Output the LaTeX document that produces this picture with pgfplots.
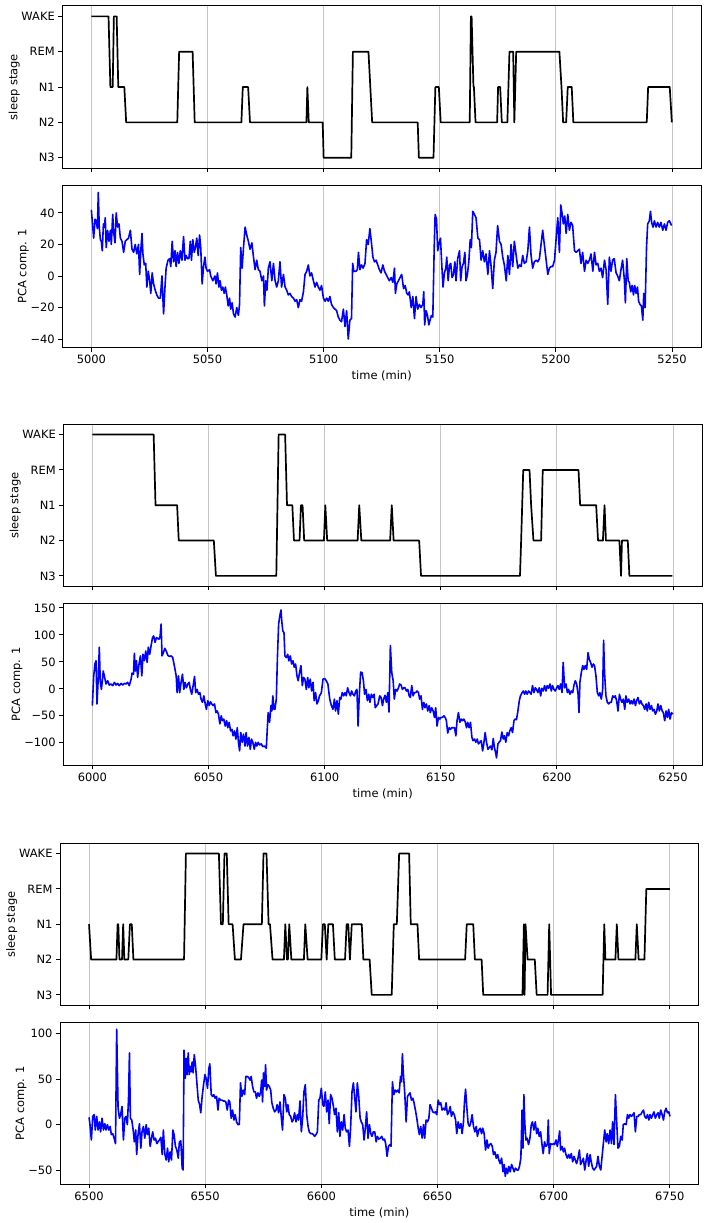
\documentclass[border=0pt]{standalone}
\usepackage{fontspec}
\setmainfont{DejaVu Sans}
\usepackage{pgfplots}
\pgfplotsset{compat=1.18}
\newcommand\tlfont{\fontsize{11.5}{13}\selectfont}
\pgfplotsset{
  base/.style={scale only axis, width=638.8bp, height=162.5bp, anchor=south west,
    tick align=outside, tick pos=left, major tick length=4bp,
    xmajorgrids, grid style={gray!45, line width=0.9bp},
    axis line style={line width=0.9bp}, tick style={line width=0.9bp, black},
    ticklabel style={font=\tlfont}, label style={font=\tlfont}, ylabel shift=-5bp},
  hyp/.style={base, ymin=-0.3, ymax=4.3, ytick={0,1,2,3,4},
    yticklabels={N3,N2,N1,REM,WAKE}, ylabel={sleep stage}, xticklabels={,,,,,}},
  pca/.style={base, xlabel={time (min)}, ylabel={PCA comp. 1}},
  hl/.style={black, line width=1.7bp, line join=round},
  pl/.style={blue, line width=1.6bp, line join=round},
}
\begin{document}
\begin{tikzpicture}
\useasboundingbox (0bp,0bp) rectangle (709bp,1223bp);
% ---------- group 1 ----------
\begin{axis}[hyp, at={(62.3bp,1054.7bp)}, xmin=4987.5, xmax=5262.5, xtick={5000,5050,...,5250}]
\addplot[hl] coordinates {(5000,4) (5007.4,4) (5008.2,2) (5009.2,2) (5009.7,4) (5010.9,4) (5011.6,2) (5014.2,2) (5015,1) (5037,1) (5037.8,3) (5043.6,3) (5044.5,1) (5064.6,1) (5065.2,2) (5067.5,2) (5068.3,1) (5092.6,1) (5093,2) (5093.6,1) (5099.6,1) (5100,0) (5111.9,0) (5112.6,3) (5119.3,3) (5120.1,2) (5120.9,1) (5140.5,1) (5141,0) (5147.3,0) (5148.1,2) (5149.6,2) (5150.4,1) (5162.9,1) (5163.4,4) (5163.7,4) (5164.5,2) (5164.7,2) (5165.4,1) (5174.7,1) (5175.1,2) (5176,2) (5176.7,1) (5179.1,1) (5180,3) (5181.6,3) (5182.1,1) (5182.9,3) (5201.5,3) (5202.4,2) (5203.1,1) (5204.4,1) (5205.1,2) (5206.8,2) (5207.5,1) (5239.1,1) (5239.7,2) (5249,2) (5249.9,1)};
\end{axis}
\begin{axis}[pca, at={(62.3bp,875.2bp)}, xmin=4987.5, xmax=5262.5, xtick={5000,5050,...,5250},
  xticklabels={5000,5050,5100,5150,5200,5250},
  ymin=-45.5, ymax=57.5, ytick={-40,-20,0,20,40}, yticklabels={−40,−20,0,20,40}]
\addplot[pl] coordinates {(5000,42) (5000.4,35) (5001,24) (5001.6,36) (5002.1,35) (5002.6,30) (5003,53) (5003.4,31) (5003.9,23) (5004.3,22) (5004.7,16) (5005.2,33) (5005.6,31) (5006,37) (5006.4,18) (5007,29) (5007.6,22) (5008.2,29) (5008.6,20) (5009.2,39) (5009.6,28) (5010.2,21) (5010.7,40) (5011.3,31) (5011.9,33) (5012.5,24) (5013.2,22) (5013.9,15) (5014.6,22) (5015.3,23) (5016,24) (5016.8,29) (5017.5,17) (5018.2,15) (5018.9,20) (5019.6,14) (5020.3,20) (5020.8,1) (5021.3,16) (5021.8,27) (5022.2,14) (5022.8,7) (5023.4,8) (5023.9,-7) (5024.5,3) (5025.1,-3) (5025.6,-11) (5026.2,2) (5026.8,-5) (5027.5,-9) (5028.2,-12) (5028.9,-14) (5029.7,-14) (5030.4,0) (5031.1,-24) (5031.7,-7) (5032.2,5) (5033,10) (5033.7,11) (5034.2,6) (5034.8,22) (5035.4,9) (5036,16) (5036.5,6) (5037.1,15) (5037.7,8) (5038.3,16) (5039,10) (5039.7,25) (5040.3,10) (5040.8,13) (5041.4,11) (5042,11) (5042.6,22) (5043.1,10) (5043.7,23) (5044.3,15) (5044.8,18) (5045.4,24) (5046,13) (5046.6,26) (5047.1,18) (5047.7,-5) (5048.3,6) (5048.9,12) (5049.4,5) (5050,3) (5050.9,4) (5051.4,0) (5052.3,-3) (5053.2,0) (5053.7,-5) (5054.3,2) (5054.9,-7) (5055.4,-3) (5056,-9) (5056.6,-7) (5057.2,-11) (5057.7,-7) (5058.3,-12) (5058.9,-19) (5059.5,-14) (5060,-21) (5060.6,-17) (5061.2,-24) (5061.9,-26) (5062.6,-20) (5063.3,-25) (5063.8,-18) (5064.3,18) (5064.9,5) (5065.5,18) (5066.2,31) (5066.9,26) (5067.6,22) (5068.3,17) (5069.1,21) (5069.8,12) (5070.5,4) (5071.2,10) (5071.9,4) (5072.6,3) (5073.4,-3) (5074.1,0) (5074.5,-19) (5075.1,-3) (5075.6,-9) (5076.2,5) (5076.9,9) (5077.7,-3) (5078.4,8) (5079.1,-3) (5079.8,-7) (5080.5,-3) (5081.2,9) (5081.9,-7) (5082.7,1) (5083.4,-7) (5084.1,-9) (5084.8,-12) (5085.5,-11) (5086.2,-13) (5087,-14) (5087.7,-16) (5088.4,-15) (5089.1,-20) (5089.8,-15) (5090.5,-16) (5091.3,-10) (5092,1) (5092.7,3) (5093.4,7) (5094.1,0) (5094.8,2) (5095.6,-3) (5096.3,-7) (5097,-4) (5097.7,-7) (5098.4,-9) (5099.1,-6) (5099.9,-14) (5100.6,-16) (5101.3,-14) (5102,-16) (5102.7,-13) (5103.4,-18) (5104.2,-20) (5104.9,-21) (5105.6,-22) (5106.3,-26) (5107,-28) (5107.7,-29) (5108.5,-21) (5109.2,-32) (5109.9,-22) (5110.6,-40) (5111.3,-28) (5112,-27) (5112.5,8) (5113,3) (5113.9,3) (5114.5,4) (5115,15) (5115.6,4) (5116.3,7) (5117,5) (5117.8,8) (5118.5,23) (5119.2,20) (5119.9,30) (5120.6,21) (5121.2,12) (5121.9,9) (5122.6,10) (5123.3,7) (5124,4) (5124.7,2) (5125.5,7) (5126.2,3) (5126.9,1) (5127.6,-1) (5128.3,-3) (5129.1,-1) (5129.8,-4) (5130.5,5) (5130.9,-11) (5131.5,-5) (5132.2,-3) (5132.9,-1) (5133.6,1) (5134.4,-8) (5135.1,-6) (5135.8,-11) (5136.4,-12) (5136.9,-10) (5137.7,-20) (5138.4,-13) (5139.1,-27) (5139.8,-13) (5140.5,-21) (5141.2,-18) (5141.9,-20) (5142.7,-18) (5143.1,-10) (5143.5,-31) (5144.1,-22) (5144.7,-25) (5145.3,-31) (5145.8,-28) (5146.4,-25) (5147,-26) (5147.6,18) (5148,39) (5148.6,36) (5149.1,16) (5149.7,21) (5150.3,24) (5150.9,6) (5151.4,-7) (5152,2) (5152.6,5) (5153,12) (5153.6,-3) (5154.2,7) (5154.7,8) (5155.3,-1) (5155.9,1) (5156.5,9) (5157,-3) (5157.7,11) (5158.5,16) (5159,-3) (5159.6,6) (5160.2,8) (5160.8,15) (5161.3,-3) (5161.9,1) (5162.5,9) (5163.1,23) (5163.6,18) (5164.2,41) (5164.9,39) (5165.6,37) (5166.4,24) (5167.1,23) (5167.8,10) (5168.5,16) (5169.2,9) (5169.9,14) (5170.7,1) (5171.4,16) (5172.1,6) (5172.8,-8) (5173.5,10) (5174.2,15) (5174.9,32) (5175.7,22) (5176.4,20) (5177.1,12) (5177.8,7) (5178.6,-3) (5179.3,13) (5180,1) (5180.7,20) (5181.4,6) (5182.1,22) (5182.9,13) (5183.6,5) (5184.3,7) (5185,6) (5185.7,13) (5186.4,8) (5187.2,9) (5187.9,16) (5188.6,31) (5189.3,13) (5190,5) (5190.7,9) (5191.5,10) (5192.2,9) (5192.9,11) (5193.6,20) (5194.3,29) (5195,20) (5195.8,10) (5196.5,1) (5197.2,5) (5197.9,6) (5198.6,6) (5199.4,10) (5200.1,24) (5200.8,37) (5201.5,15) (5202.1,45) (5202.7,39) (5203.2,33) (5203.8,38) (5204.4,27) (5205.1,39) (5205.8,29) (5206.5,34) (5207.2,32) (5208,16) (5208.7,15) (5209.4,16) (5210.1,17) (5210.8,8) (5211.5,15) (5212.3,3) (5213,10) (5213.7,8) (5214.4,10) (5215.1,14) (5215.9,3) (5216.6,15) (5217.3,7) (5218,8) (5218.7,3) (5219.4,5) (5220.1,-1) (5220.9,10) (5221.6,4) (5222.3,-18) (5223,12) (5223.7,3) (5224.4,10) (5225.1,11) (5225.9,2) (5226.6,0) (5227.3,-3) (5228,4) (5228.7,10) (5229.5,-3) (5229.9,-17) (5230.5,11) (5231.1,-3) (5231.6,-4) (5232.2,-10) (5232.8,-6) (5233.4,-12) (5233.9,-6) (5234.5,-11) (5235.1,-7) (5235.6,-16) (5236.2,-18) (5236.8,-19) (5237.4,-28) (5237.8,-11) (5238.4,-20) (5239,18) (5239.5,33) (5240.2,35) (5240.7,41) (5241.2,34) (5241.8,31) (5242.4,35) (5243.1,31) (5243.8,34) (5244.5,31) (5245.2,34) (5246,29) (5246.7,33) (5247.4,29) (5248.1,34) (5248.8,35) (5249.8,32)};
\end{axis}
% ---------- group 2 ----------
\begin{axis}[hyp, at={(63.3bp,636.5bp)}, xmin=5987.5, xmax=6262.5, xtick={6000,6050,...,6250}]
\addplot[hl] coordinates {(6000,4) (6026.4,4) (6027.2,2) (6036.5,2) (6037.2,1) (6052.3,1) (6053.2,0) (6079.2,0) (6080.2,4) (6083,4) (6083.8,2) (6086.1,2) (6086.8,1) (6089.2,1) (6089.8,2) (6090.5,2) (6091.2,1) (6099.7,1) (6100.3,2) (6101.1,1) (6114.2,1) (6114.9,2) (6115.8,1) (6128.2,1) (6128.9,2) (6129.7,1) (6140.7,1) (6141.5,0) (6184.1,0) (6184.6,1) (6185.5,3) (6188.2,3) (6188.9,2) (6189.9,1) (6193.2,1) (6193.9,3) (6209.3,3) (6210,2) (6216.9,2) (6217.7,1) (6219.8,1) (6220.5,2) (6221.1,1) (6226.9,1) (6227.6,0) (6228,1) (6230.5,1) (6231.2,0) (6249.7,0)};
\end{axis}
\begin{axis}[pca, at={(63.3bp,457.5bp)}, xmin=5987.5, xmax=6262.5, xtick={6000,6050,...,6250},
  xticklabels={6000,6050,6100,6150,6200,6250},
  ymin=-142, ymax=159, ytick={-100,-50,0,50,100,150}, yticklabels={−100,−50,0,50,100,150}]
\addplot[pl] coordinates {(6000,-31) (6000.6,24) (6001.1,46) (6001.6,52) (6002,-28) (6002.6,24) (6003,77) (6003.4,15) (6003.9,-1) (6004.3,15) (6004.7,33) (6005.3,21) (6005.9,9) (6006.6,15) (6007.3,7) (6008,9) (6008.8,6) (6009.5,12) (6010.2,7) (6010.9,10) (6011.6,6) (6012.4,10) (6013.1,7) (6013.8,10) (6014.5,9) (6015.2,12) (6015.9,6) (6016.7,18) (6017.1,29) (6017.7,27) (6018.1,66) (6018.5,33) (6019,52) (6019.5,21) (6020.1,46) (6020.7,61) (6021.3,24) (6021.8,64) (6022.4,52) (6023,70) (6023.6,49) (6024.1,77) (6024.7,64) (6025.3,80) (6025.9,95) (6026.4,98) (6027,86) (6027.6,95) (6028.2,93) (6028.7,92) (6029.2,98) (6029.6,120) (6030,61) (6030.6,67) (6031.2,75) (6031.8,70) (6032.5,62) (6033.2,60) (6033.9,61) (6034.6,58) (6035.3,43) (6036.1,24) (6036.5,-7) (6037.1,24) (6037.6,-7) (6038.2,12) (6038.8,27) (6039.4,-1) (6039.9,12) (6040.5,2) (6041.1,9) (6041.7,12) (6042.2,-1) (6042.8,-10) (6043.4,6) (6044,23) (6044.5,-7) (6045.1,-1) (6045.7,-10) (6046.3,-7) (6046.8,-19) (6047.4,-25) (6048,-13) (6048.6,-28) (6049.1,-38) (6049.7,-22) (6050.3,-31) (6050.9,-24) (6051.4,-28) (6052,-31) (6052.6,-28) (6053.2,-44) (6053.7,-41) (6054.3,-47) (6054.9,-65) (6055.5,-50) (6056,-59) (6056.6,-56) (6057.2,-69) (6057.8,-59) (6058.3,-72) (6058.9,-62) (6059.5,-78) (6060.1,-75) (6060.6,-87) (6061.2,-78) (6061.8,-93) (6062.4,-72) (6062.9,-99) (6063.4,-115) (6063.9,-81) (6064.5,-99) (6065.1,-84) (6065.7,-106) (6066.2,-81) (6066.8,-106) (6067.4,-90) (6068,-112) (6068.5,-93) (6069.1,-99) (6069.7,-112) (6070.3,-99) (6070.8,-106) (6071.4,-99) (6072,-104) (6072.7,-102) (6073.4,-107) (6074.1,-106) (6074.9,-110) (6075.3,-75) (6075.7,-44) (6076.3,-62) (6076.9,-31) (6077.3,-41) (6077.7,-13) (6078.2,-38) (6078.6,-38) (6079.2,-19) (6079.7,61) (6080.2,120) (6080.7,135) (6081.2,146) (6081.6,123) (6082,107) (6082.5,104) (6082.9,61) (6083.5,58) (6084.1,64) (6084.6,52) (6085.2,61) (6085.8,46) (6086.4,52) (6086.9,40) (6087.5,46) (6088.1,24) (6088.6,15) (6089.2,30) (6089.8,43) (6090.4,6) (6090.9,21) (6091.5,18) (6092.1,-1) (6092.7,21) (6093.2,2) (6093.8,18) (6094.4,-4) (6095,12) (6095.5,-22) (6096.1,-7) (6096.7,-28) (6097.3,-22) (6097.8,-13) (6098.6,-7) (6099.3,18) (6100,19) (6100.7,15) (6101.4,9) (6102.2,-19) (6102.9,-31) (6103.6,-38) (6104.2,-19) (6104.7,-41) (6105.3,-22) (6105.9,-47) (6106.5,-16) (6107,-19) (6107.6,-7) (6108.2,-13) (6108.8,-7) (6109.3,-13) (6109.9,2) (6110.5,-7) (6111.1,-13) (6111.6,-4) (6112.2,-10) (6112.8,-13) (6113.4,-4) (6113.9,-1) (6114.4,-69) (6114.9,-13) (6115.5,31) (6116.1,30) (6116.7,15) (6117.2,-10) (6117.8,-1) (6118.4,-22) (6119,-10) (6119.5,-25) (6120.1,-10) (6120.7,-16) (6121.3,-10) (6121.8,-35) (6122.4,-31) (6123,-28) (6123.7,-13) (6124.3,-16) (6124.9,-31) (6125.4,-19) (6126,-12) (6126.6,-25) (6127.2,-7) (6127.7,-43) (6128.3,80) (6128.9,30) (6129.5,15) (6130,-19) (6130.6,-1) (6131.2,-4) (6131.8,2) (6132.3,9) (6132.9,7) (6133.5,-1) (6134.1,2) (6134.6,2) (6135.2,-4) (6135.8,-1) (6136.4,-13) (6136.9,-16) (6137.5,6) (6138.1,-13) (6138.6,-7) (6139.2,-7) (6139.8,-4) (6140.4,-7) (6140.9,-19) (6141.5,-13) (6142.1,-38) (6142.7,-25) (6143.2,-35) (6143.8,-28) (6144.4,-41) (6145,-31) (6145.5,-44) (6146.1,-35) (6146.7,-41) (6147.3,-53) (6147.8,-35) (6148.4,-69) (6149,-53) (6149.6,-56) (6150.1,-53) (6150.7,-53) (6151.3,-50) (6151.9,-53) (6152.4,-59) (6153,-82) (6153.6,-72) (6154.2,-75) (6154.7,-72) (6155.3,-72) (6155.9,-72) (6156.5,-87) (6157,-59) (6157.6,-44) (6158.2,-62) (6158.8,-56) (6159.3,-59) (6159.9,-56) (6160.5,-61) (6161.1,-72) (6161.6,-62) (6162.2,-72) (6162.8,-62) (6163.4,-90) (6163.9,-96) (6164.5,-93) (6165.1,-99) (6165.7,-93) (6166.2,-102) (6166.8,-99) (6167.4,-96) (6168,-115) (6168.5,-102) (6169.1,-81) (6169.7,-99) (6170.3,-112) (6170.8,-109) (6171.4,-106) (6172,-113) (6172.6,-92) (6173.1,-109) (6173.6,-118) (6174,-128) (6174.6,-102) (6175.1,-99) (6175.7,-96) (6176.3,-80) (6176.9,-93) (6177.4,-87) (6178,-99) (6178.6,-81) (6179.2,-87) (6179.7,-78) (6180.3,-72) (6180.9,-81) (6181.5,-59) (6182,-56) (6182.6,-57) (6183.2,-41) (6183.8,-22) (6184.3,-13) (6184.9,-8) (6185.5,-4) (6186.1,-10) (6186.6,-4) (6187.2,-10) (6187.8,-4) (6188.4,-7) (6188.9,-10) (6189.5,6) (6190.1,-7) (6190.7,2) (6191.2,-1) (6191.8,-7) (6192.4,2) (6193,-13) (6193.5,1) (6194.1,-4) (6194.7,6) (6195.3,-4) (6195.8,6) (6196.4,1) (6197,9) (6197.6,-4) (6198.1,6) (6198.7,-1) (6199.3,-4) (6199.9,2) (6200.4,6) (6201,-1) (6201.6,9) (6202.2,-7) (6202.7,49) (6203.3,2) (6203.9,9) (6204.5,-7) (6205,-1) (6205.6,-10) (6206.2,-4) (6206.8,-7) (6207.3,6) (6207.9,15) (6208.5,9) (6209.1,-10) (6209.5,-44) (6209.9,12) (6210.5,30) (6211.1,43) (6211.6,36) (6212.2,43) (6212.8,36) (6213.4,67) (6213.9,55) (6214.5,49) (6215.1,40) (6215.7,46) (6216.2,43) (6216.8,24) (6217.4,-7) (6218,-13) (6218.5,-7) (6219.1,-19) (6219.7,-1) (6220.1,90) (6220.5,30) (6221.1,-13) (6221.7,-25) (6222.3,-28) (6222.8,-25) (6223.4,-25) (6224,-13) (6224.6,-16) (6225.1,-13) (6225.7,-22) (6226.3,-41) (6226.9,-10) (6227.4,-19) (6228,-25) (6228.6,-19) (6229.2,-38) (6229.7,-13) (6230.3,-25) (6230.9,-19) (6231.5,-28) (6232,-22) (6232.6,-28) (6233.2,-19) (6233.8,-31) (6234.3,-22) (6234.9,-16) (6235.5,-28) (6236.1,-22) (6236.6,-28) (6237.2,-31) (6237.8,-38) (6238.4,-28) (6238.9,-41) (6239.5,-25) (6240.1,-38) (6240.7,-31) (6241.2,-41) (6241.8,-38) (6242.4,-47) (6243,-41) (6243.5,-28) (6244.1,-41) (6244.7,-31) (6245.3,-41) (6245.8,-44) (6246.4,-59) (6247,-41) (6247.6,-53) (6248.1,-38) (6248.7,-56) (6249.3,-44) (6249.9,-47)};
\end{axis}
% ---------- group 3 ----------
\begin{axis}[hyp, at={(60bp,217.5bp)}, xmin=6487.5, xmax=6762.5, xtick={6500,6550,...,6750}]
\addplot[hl] coordinates {(6500,2) (6500.9,1) (6511.8,1) (6512.3,2) (6512.6,2) (6513.1,1) (6514.2,1) (6514.7,2) (6515.2,1) (6516.9,1) (6517.6,2) (6518.4,2) (6519.1,1) (6540.9,1) (6541.7,4) (6555.9,4) (6556.8,2) (6557.6,2) (6558.3,4) (6559.3,4) (6560.1,2) (6561.8,2) (6562.8,1) (6565.4,1) (6566.5,2) (6574.4,2) (6575.1,4) (6576.4,4) (6577.3,2) (6577.9,2) (6579,1) (6583.9,1) (6584.5,2) (6585.2,1) (6585.6,1) (6586.2,2) (6587.1,1) (6592.5,1) (6593.1,2) (6594.1,1) (6600,1) (6600.7,2) (6601.5,2) (6602.3,1) (6603,2) (6605,2) (6605.8,1) (6610.2,1) (6610.9,2) (6611.6,2) (6612.3,1) (6613.1,2) (6617.4,2) (6618.1,1) (6620.8,1) (6621.7,0) (6630.3,0) (6631.2,2) (6632.5,2) (6633.5,4) (6637.8,4) (6638.5,2) (6641.4,2) (6642.1,1) (6661.9,1) (6662.6,2) (6665.4,2) (6666.1,1) (6669,1) (6669.7,0) (6686.6,0) (6687.2,2) (6687.5,0) (6687.9,2) (6688.8,1) (6691.9,1) (6692.7,0) (6697.4,0) (6698.1,2) (6698.9,0) (6721.1,0) (6721.8,2) (6722.3,1) (6726.6,1) (6727.2,2) (6727.9,1) (6735.2,1) (6735.8,2) (6736.6,1) (6739.1,1) (6739.9,3) (6750,3)};
\end{axis}
\begin{axis}[pca, at={(60bp,38.5bp)}, xmin=6487.5, xmax=6762.5, xtick={6500,6550,...,6750},
  xticklabels={6500,6550,6600,6650,6700,6750},
  ymin=-66, ymax=113, ytick={-50,0,50,100}, yticklabels={−50,0,50,100}]
\addplot[pl] coordinates {(6500,8) (6500.4,0) (6501,-17) (6501.6,9) (6502.2,11) (6502.7,-6) (6503.3,9) (6503.9,-6) (6504.5,3) (6505,-8) (6505.6,7) (6506.2,-6) (6506.8,1) (6507.3,-6) (6507.9,0) (6508.5,-6) (6509.1,-2) (6509.6,-11) (6510.2,-10) (6510.8,-15) (6511.4,-21) (6511.9,105) (6512.5,18) (6513.1,7) (6513.6,11) (6514.2,20) (6514.8,-17) (6515.4,7) (6515.9,9) (6516.5,0) (6517,29) (6517.4,79) (6517.8,7) (6518.4,5) (6519,-6) (6519.5,-19) (6520.1,-6) (6520.5,-33) (6521.1,-11) (6521.7,1) (6522.3,-26) (6522.8,-8) (6523.4,-2) (6524,-15) (6524.6,0) (6525.1,-11) (6525.7,-4) (6526.3,-24) (6526.9,-15) (6527.4,-8) (6528,-17) (6528.6,-15) (6529.2,-21) (6529.7,-19) (6530.3,-17) (6530.9,-14) (6531.5,-33) (6532,-6) (6532.6,-32) (6533.2,-39) (6533.8,-26) (6534.3,-41) (6534.9,-30) (6535.5,-39) (6536.1,-6) (6536.6,-11) (6537.2,-24) (6537.8,-28) (6538.4,-37) (6538.9,-19) (6539.5,-18) (6540.1,-48) (6540.5,-50) (6540.9,82) (6541.4,51) (6541.8,73) (6542.2,55) (6542.7,79) (6543.1,55) (6543.5,64) (6543.9,58) (6544.4,69) (6544.8,57) (6545.3,77) (6545.8,66) (6546.4,47) (6547,27) (6547.6,22) (6548.1,13) (6548.7,31) (6549.3,44) (6549.9,55) (6550.4,51) (6551,40) (6551.6,62) (6552,67) (6552.6,33) (6553.2,31) (6553.7,33) (6554.3,29) (6554.9,31) (6555.5,16) (6556,29) (6556.6,27) (6557.2,27) (6557.8,26) (6558.3,26) (6558.9,25) (6559.5,16) (6560.1,27) (6560.6,25) (6561.2,7) (6561.8,16) (6562.4,5) (6562.9,11) (6563.5,3) (6564.1,0) (6564.7,0) (6565.2,46) (6565.8,31) (6566.4,38) (6567,33) (6567.5,53) (6568.1,53) (6568.7,52) (6569.3,49) (6569.8,53) (6570.4,42) (6571,36) (6571.6,36) (6572.1,29) (6572.7,35) (6573.3,31) (6573.9,36) (6574.3,49) (6574.7,25) (6575.1,57) (6575.6,42) (6576,66) (6576.4,38) (6577,44) (6577.6,42) (6578.2,38) (6578.7,24) (6579.3,18) (6579.9,14) (6580.5,16) (6581,22) (6581.6,13) (6582.2,25) (6582.8,7) (6583.3,-6) (6583.9,33) (6584.5,29) (6585.1,14) (6585.6,22) (6586.2,11) (6586.8,9) (6587.4,3) (6587.9,5) (6588.5,13) (6589.1,3) (6589.7,11) (6590.2,5) (6590.8,26) (6591.4,-8) (6592,9) (6592.5,36) (6593.1,44) (6593.7,11) (6594.3,-2) (6594.8,-8) (6595.4,-10) (6596,-10) (6596.6,-11) (6597.1,-13) (6597.7,-11) (6598.3,-8) (6598.9,27) (6599.4,29) (6600,40) (6600.6,22) (6601.1,20) (6601.7,36) (6602.3,14) (6602.9,27) (6603.4,1) (6604,33) (6604.6,29) (6605.2,20) (6605.7,11) (6606.3,18) (6606.9,-8) (6607.5,13) (6608,-13) (6608.6,3) (6609.2,-6) (6609.8,11) (6610.3,-4) (6610.9,-8) (6611.5,-6) (6612.1,-24) (6612.6,-4) (6613.2,36) (6613.8,46) (6614.4,29) (6614.9,14) (6615.5,46) (6616.1,31) (6616.7,7) (6617.2,3) (6617.8,0) (6618.4,-17) (6619,-2) (6619.5,14) (6620.1,-15) (6620.7,0) (6621.3,-10) (6621.8,-13) (6622.4,-8) (6623,-8) (6623.6,-19) (6624.1,-13) (6624.7,-16) (6625.4,-15) (6626,-13) (6626.6,-17) (6627.2,-16) (6627.7,-21) (6628.3,-35) (6628.9,-24) (6629.5,-22) (6630,-24) (6630.6,47) (6631.2,33) (6631.8,38) (6632.3,36) (6632.9,38) (6633.5,35) (6634.1,53) (6634.5,47) (6634.9,78) (6635.3,57) (6635.9,35) (6636.5,3) (6637.1,31) (6637.6,33) (6638.2,35) (6638.8,27) (6639.4,29) (6639.9,24) (6640.5,16) (6641.1,7) (6641.7,-4) (6642.2,-11) (6642.8,-2) (6643.4,-15) (6644,0) (6644.5,-15) (6645.1,5) (6645.7,3) (6646.3,7) (6646.8,22) (6647.4,18) (6648,14) (6648.6,13) (6649.1,14) (6649.7,11) (6650.3,27) (6650.9,22) (6651.4,24) (6652,16) (6652.6,18) (6653.2,16) (6653.7,24) (6654.3,11) (6654.9,14) (6655.5,20) (6656,9) (6656.6,14) (6657.2,11) (6657.8,5) (6658.3,-10) (6658.9,3) (6659.5,-4) (6660.1,1) (6660.6,-10) (6661.2,3) (6661.6,24) (6662.1,39) (6662.6,20) (6663.2,1) (6663.8,-2) (6664.4,3) (6664.9,11) (6665.5,-2) (6666.1,-8) (6666.7,-2) (6667.2,-13) (6667.8,-6) (6668.4,-4) (6669,-10) (6669.5,-4) (6670.1,-10) (6670.7,-28) (6671.3,-17) (6671.8,-26) (6672.4,-22) (6673,-21) (6673.6,-24) (6674.1,-33) (6674.7,-30) (6675.3,-37) (6675.9,-33) (6676.4,-39) (6677,-43) (6677.6,-37) (6678.2,-52) (6678.7,-44) (6679.2,-57) (6679.6,-48) (6680.2,-54) (6680.7,-46) (6681.3,-52) (6681.9,-44) (6682.5,-48) (6683,-52) (6683.6,-48) (6684.2,-50) (6684.8,-50) (6685.3,-46) (6685.9,-37) (6686.4,16) (6686.8,-26) (6687.2,33) (6687.6,1) (6688.1,-17) (6688.6,-15) (6689.2,-22) (6689.8,-15) (6690.4,0) (6690.9,3) (6691.5,-6) (6692.1,3) (6692.7,-10) (6693.2,-4) (6693.8,-13) (6694.4,-8) (6695,-22) (6695.5,-32) (6696.1,-19) (6696.7,-24) (6697.3,-22) (6697.7,5) (6698.1,-32) (6698.7,-21) (6699.3,-22) (6699.9,-21) (6700.4,-22) (6701,-17) (6701.6,-24) (6702.2,-15) (6702.6,-7) (6703,-28) (6703.6,-24) (6704.2,-30) (6704.7,-26) (6705.3,-33) (6705.9,-37) (6706.5,-33) (6707,-37) (6707.6,-32) (6708.2,-41) (6708.8,-35) (6709.3,-39) (6709.9,-43) (6710.5,-37) (6711.1,-28) (6711.6,-44) (6712.2,-41) (6712.8,-37) (6713.4,-50) (6713.9,-41) (6714.5,-32) (6715.1,-46) (6715.7,-33) (6716.2,-41) (6716.8,-48) (6717.4,-50) (6718,-48) (6718.5,-46) (6719.1,-35) (6719.7,-46) (6720.3,-50) (6720.8,-37) (6721.4,-21) (6722,-6) (6722.6,-19) (6723.1,-10) (6723.7,-21) (6724.3,-6) (6724.9,-21) (6725.4,3) (6726,-22) (6726.6,33) (6727.2,0) (6727.7,-26) (6728.3,-24) (6728.9,-13) (6729.5,-17) (6730,0) (6730.6,1) (6731.2,0) (6731.8,11) (6732.3,7) (6732.9,11) (6733.5,9) (6734.1,11) (6734.6,13) (6735.2,-8) (6735.8,9) (6736.4,9) (6736.9,11) (6737.5,11) (6738.1,14) (6738.7,16) (6739.2,9) (6739.8,7) (6740.4,11) (6741,5) (6741.5,11) (6742.1,7) (6742.7,11) (6743.2,14) (6743.8,7) (6744.4,11) (6745,13) (6745.5,7) (6746.1,16) (6746.7,11) (6747.3,5) (6747.8,14) (6748.4,18) (6749,13) (6749.6,14) (6750.1,9)};
\end{axis}
\end{tikzpicture}
\end{document}
